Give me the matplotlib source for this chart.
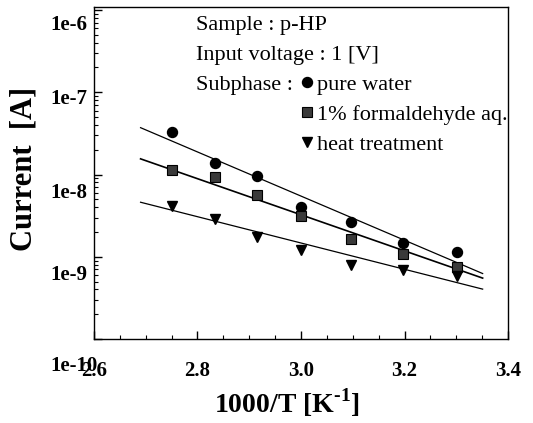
import numpy as np
import matplotlib
matplotlib.use("Agg")
import matplotlib.pyplot as plt
from matplotlib.transforms import ScaledTranslation
from matplotlib.ticker import LogLocator, NullFormatter

# ---------------- data ----------------
inv_T = [2.75, 2.833, 2.915, 3.0, 3.097, 3.197, 3.302]
pure_water = [3.3e-8, 1.37e-8, 9.7e-9, 4.0e-9, 2.62e-9, 1.47e-9, 1.13e-9]
formaldehyde = [1.12e-8, 9.3e-9, 5.7e-9, 3.1e-9, 1.64e-9, 1.08e-9, 7.6e-10]
heat_treat = [4.1e-9, 2.9e-9, 1.75e-9, 1.21e-9, 8.0e-10, 6.9e-10, 5.9e-10]

fit_x = [2.69, 3.351]
fit_pure = [3.71e-8, 6.25e-10]
fit_form = [1.55e-8, 5.5e-10]
fit_heat = [4.6e-9, 4.04e-10]

series_labels = ["pure water", "1% formaldehyde aq.", "heat treatment"]
header_lines = ["Sample : p-HP", "Input voltage : 1 [V]", "Subphase :"]
xticks = [2.6, 2.8, 3.0, 3.2, 3.4]
xtick_labels = ["2.6", "2.8", "3.0", "3.2", "3.4"]
yticks = [1e-10, 1e-9, 1e-8, 1e-7, 1e-6]
ytick_labels = ["1e-10", "1e-9", "1e-8", "1e-7", "1e-6"]

# ---------------- style ----------------
plt.rcParams['font.family'] = ['Liberation Serif', 'DejaVu Serif']
plt.rcParams['mathtext.fontset'] = 'custom'
plt.rcParams['mathtext.rm'] = 'Liberation Serif'
plt.rcParams['mathtext.bf'] = 'Liberation Serif:bold'

W, H, DPI = 533, 423, 100
fig = plt.figure(figsize=(W / DPI, H / DPI), dpi=DPI)
L, R, T, B = 94, 508, 7, 339
ax = fig.add_axes([L / W, 1 - B / H, (R - L) / W, (B - T) / H])

ax.set_yscale('log')
ax.set_xlim(2.6, 3.4)
ax.set_ylim(1e-10, 10 ** (-6 + 3 / 82))

ms = 7.2
ax.plot(fit_x, fit_pure, color='black', lw=0.9)
ax.plot(fit_x, fit_form, color='black', lw=1.2)
ax.plot(fit_x, fit_heat, color='black', lw=0.9)
h1, = ax.plot(inv_T, pure_water, 'o', color='black', ms=ms, label=series_labels[0])
h2, = ax.plot(inv_T, formaldehyde, 's', mfc='#3a3a3a', mec='black', mew=0.8, ms=6.6,
              label=series_labels[1])
h3, = ax.plot(inv_T, heat_treat, 'v', color='black', ms=ms + 0.6, label=series_labels[2])

# ticks
ax.set_xticks(xticks)
ax.set_xticklabels(xtick_labels)
ax.set_xticks(np.arange(2.65, 3.4, 0.05), minor=True)
ax.set_yticks(yticks)
ax.set_yticklabels(ytick_labels)
ax.yaxis.set_minor_locator(LogLocator(base=10, subs=np.arange(2, 10)))
ax.yaxis.set_minor_formatter(NullFormatter())

ax.tick_params(which='both', direction='in', top=False, right=False)
ax.tick_params(which='major', length=6, width=1.0)
ax.tick_params(which='minor', length=3, width=0.8)
ax.tick_params(axis='x', pad=16)
ax.tick_params(axis='y', pad=31.5)
for lab in ax.get_xticklabels():
    lab.set_fontsize(15)
    lab.set_fontweight('bold')

y_offsets_px = [24, 16, 16, 4, 12]
for tick, dy in zip(ax.yaxis.get_major_ticks(), y_offsets_px):
    lab = tick.label1
    lab.set_fontsize(15)
    lab.set_fontweight('bold')
    lab.set_horizontalalignment('left')
    lab.set_transform(lab.get_transform() + ScaledTranslation(0, -dy / DPI, fig.dpi_scale_trans))

for sp in ax.spines.values():
    sp.set_linewidth(1.0)

# labels
ax.set_xlabel('1000/T [K$^{\\mathbf{\u2010 1}}$]', fontsize=20, fontweight='bold')
ax.xaxis.label.set_va('center')
ax.xaxis.set_label_coords((287 - L) / (R - L), (B - 403) / (B - T))
ax.set_ylabel('Current  [A]', fontsize=22, fontweight='bold')
ax.yaxis.label.set_va('center')
ax.yaxis.set_label_coords((24 - L) / (R - L), (B - 169) / (B - T))

# header text
for i, line in enumerate(header_lines):
    ax.text((196 - L) / (R - L), (B - (30 + 30 * i)) / (B - T), line,
            transform=ax.transAxes, fontsize=16, va='baseline', ha='left')

leg = ax.legend(handles=[h1, h2, h3], loc='upper left',
                bbox_to_anchor=((300 - L) / (R - L), (B - 74) / (B - T)),
                frameon=False, fontsize=16, handlelength=0.6, handletextpad=0.15,
                borderpad=0, borderaxespad=0, labelspacing=0.44, numpoints=1)

fig.savefig('out.png', dpi=DPI)
